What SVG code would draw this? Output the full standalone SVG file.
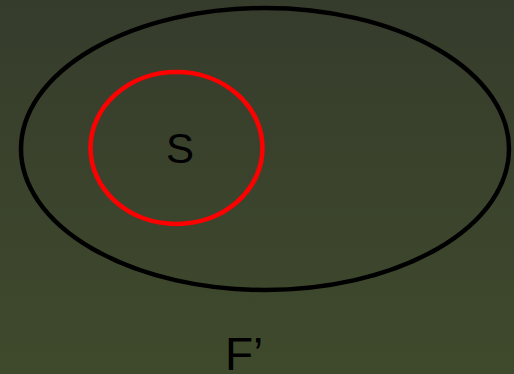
<svg xmlns="http://www.w3.org/2000/svg" width="514" height="374" viewBox="0 0 514 374">
<defs>
<linearGradient id="bg" x1="0" y1="0" x2="0" y2="1">
<stop offset="0" stop-color="#363c2c"/>
<stop offset="1" stop-color="#3f4a2c"/>
</linearGradient>
<style>
.lbl{font-family:"Liberation Sans",Arial,sans-serif;fill:#000}
</style>
</defs>
<rect width="514" height="374" fill="url(#bg)"/>
<g id="F">
<ellipse cx="265" cy="149" rx="244" ry="141" fill="none" stroke="#000" stroke-width="4.5"/>
<text class="lbl" x="225" y="370" font-size="46">F’</text>
</g>
<g id="S">
<ellipse cx="176.5" cy="148" rx="86" ry="76" fill="none" stroke="#ff0000" stroke-width="4.5"/>
<text class="lbl" x="180" y="163" font-size="42" text-anchor="middle">S</text>
</g>
<g id="connectors"/>
</svg>
